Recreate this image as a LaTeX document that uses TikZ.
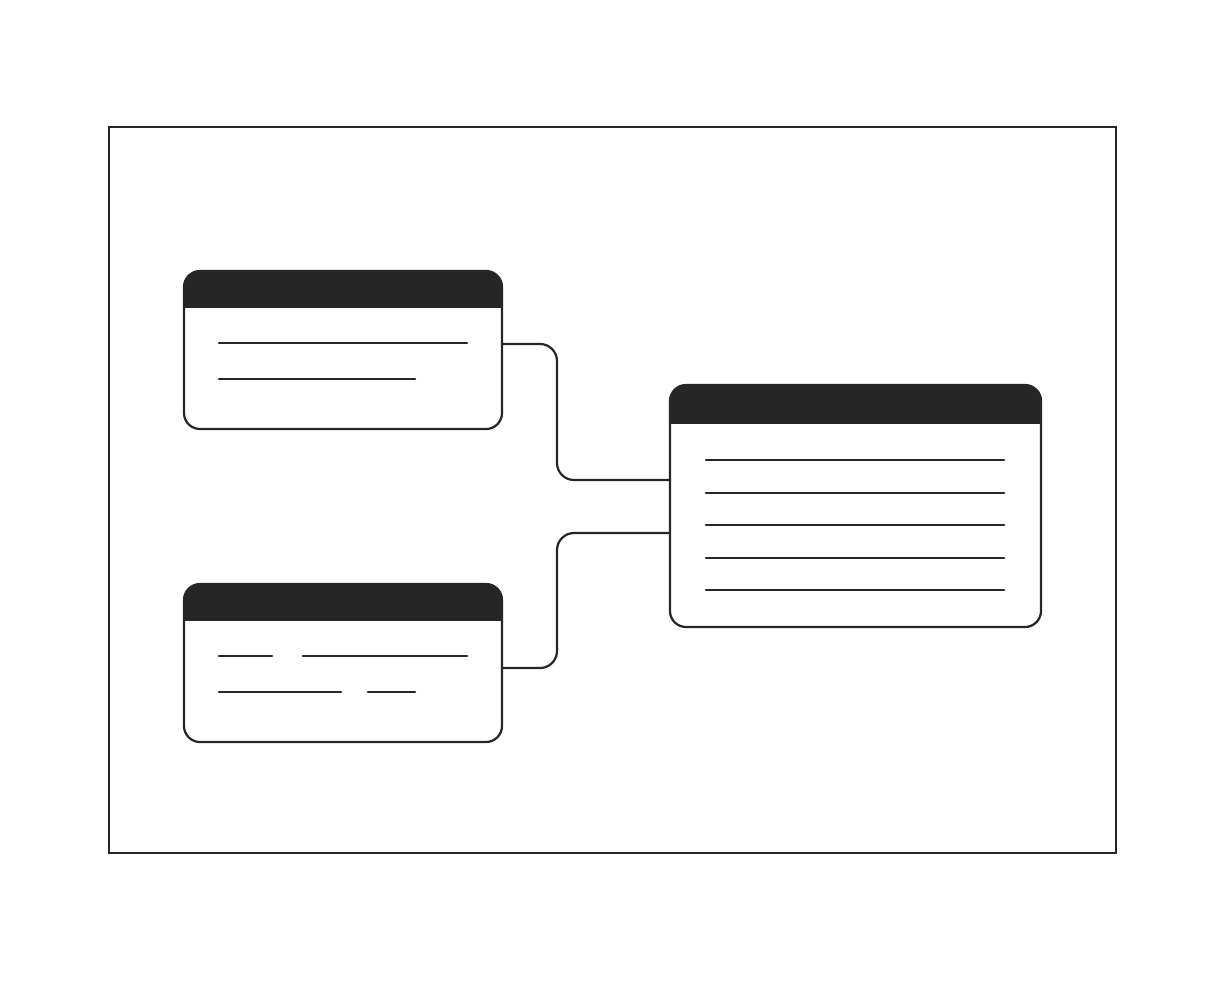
\documentclass[tikz,border=0pt]{standalone}
\usetikzlibrary{calc}
\definecolor{ink}{HTML}{262626}
\begin{document}
\begin{tikzpicture}[x=1pt,y=-1pt,
  ln/.style={draw=ink,line width=2.2pt},
  txt/.style={draw=ink,line width=2.6pt,line cap=round},
  card/.style={draw=ink,line width=2.2pt,rounded corners=16pt,fill=white,inner sep=0pt,
    path picture={\fill[ink,sharp corners] (path picture bounding box.north west) rectangle ([yshift=-#1]path picture bounding box.north east);}},
  conn/.style={draw=ink,line width=2.2pt,rounded corners=17pt}]
\fill[white] (0,0) rectangle (1225,980);
\useasboundingbox (0,0) rectangle (1225,980);
\node[ln,rectangle,minimum width=1007pt,minimum height=726pt,inner sep=0pt] (frame) at (612.5,490) {};
\node[card=37pt,minimum width=318pt,minimum height=158pt] (b1) at (343,350) {};
\node[card=37pt,minimum width=318pt,minimum height=158pt] (b2) at (343,663) {};
\node[card=39pt,minimum width=371pt,minimum height=242pt] (b3) at (855.5,506) {};
% connectors
\draw[conn] ([yshift=6pt]b1.east) -- (557,344) -- (557,480) -- ([yshift=26pt]b3.west);
\draw[conn] ([yshift=-27pt]b3.west) -- (557,533) -- (557,668) -- ([yshift=-5pt]b2.east);
% text lines card 1
\draw[txt] (219,343) -- (467,343);
\draw[txt] (219,379) -- (415,379);
% text lines card 2
\draw[txt] (219,656) -- (272,656);
\draw[txt] (303,656) -- (467,656);
\draw[txt] (219,692) -- (341,692);
\draw[txt] (368,692) -- (415,692);
% text lines card 3
\foreach \y in {460,493,525,558,590}
  \draw[txt] (706,\y) -- (1004,\y);
\end{tikzpicture}
\end{document}
